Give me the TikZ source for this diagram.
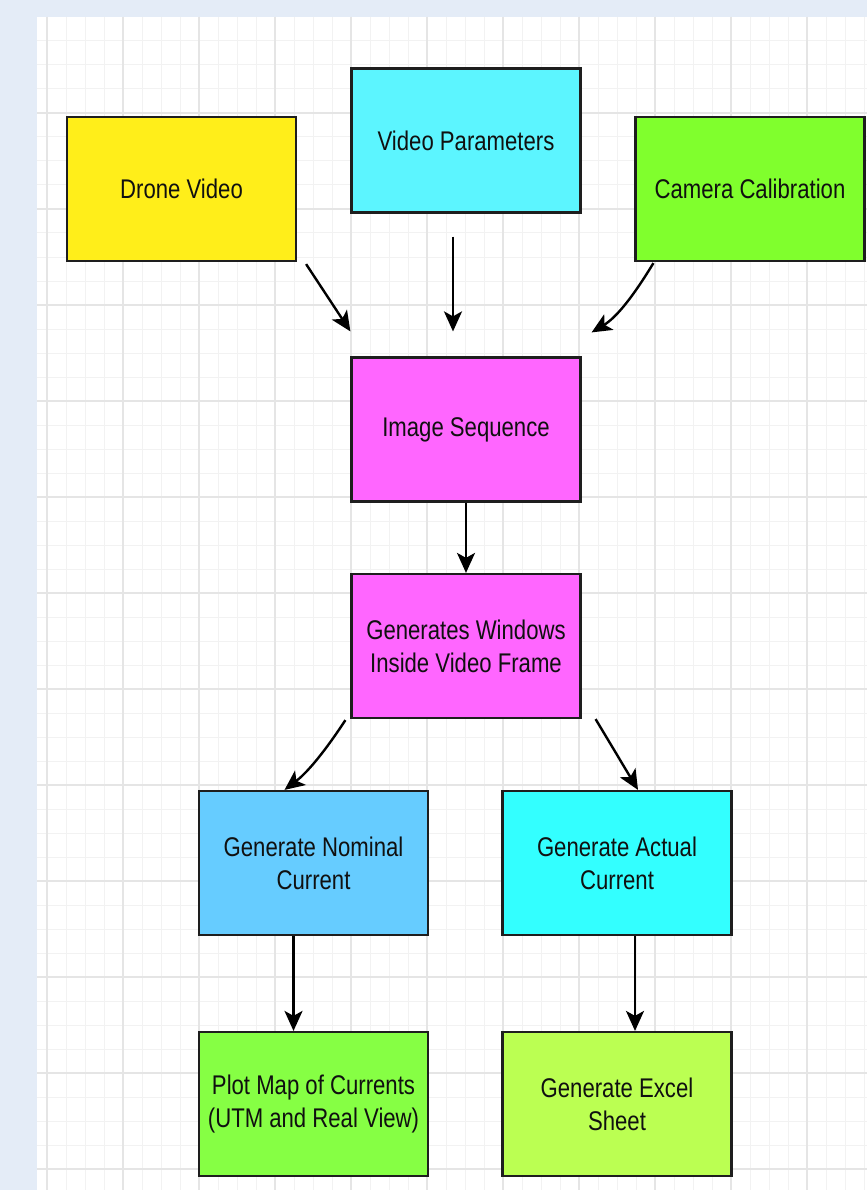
\documentclass[tikz,border=0pt]{standalone}
\usepackage{fontspec}
\setmainfont[FakeStretch=0.82]{Liberation Sans}
\usetikzlibrary{arrows.meta,calc}
\definecolor{bgblue}{HTML}{E4ECF7}
\definecolor{minorgrid}{HTML}{F2F2F2}
\definecolor{majorgrid}{HTML}{E5E5E5}
\definecolor{boxline}{HTML}{1E1E1E}
\definecolor{txt}{HTML}{101010}
\definecolor{cyellow}{HTML}{FFEE1A}
\definecolor{cvparam}{HTML}{5CF5FF}
\definecolor{ccamera}{HTML}{80FF2D}
\definecolor{cmagenta}{HTML}{FF66FF}
\definecolor{cnominal}{HTML}{66CCFF}
\definecolor{cactual}{HTML}{33FFFF}
\definecolor{cplot}{HTML}{86FF44}
\definecolor{cexcel}{HTML}{BBFF52}
\tikzset{
  flowbox/.style={draw=boxline, line width=2.2pt, minimum width=229pt, minimum height=144pt,
    inner sep=0pt, align=center, text=txt, font=\fontsize{27}{33}\selectfont},
  conn/.style={draw=black, line width=2.4pt, -{Stealth[length=20pt,width=18pt,inset=5pt]}},
  mgrid/.style={draw=minorgrid, line width=1pt},
  Mgrid/.style={draw=majorgrid, line width=1.3pt}
}
\begin{document}
\begin{tikzpicture}[x=1pt,y=-1pt]
\useasboundingbox (0,0) rectangle (867,1190);
\fill[bgblue] (0,0) rectangle (867,1190);
\fill[white] (37,17) rectangle (867,1190);
% grid
\foreach \gx in {47,66,...,866} \draw[mgrid] (\gx,17) -- (\gx,1190);
\foreach \gy in {41,65,...,1190} \draw[mgrid] (37,\gy) -- (867,\gy);
\foreach \gx in {47,123,...,866} \draw[Mgrid] (\gx,17) -- (\gx,1190);
\foreach \gy in {113,209,...,1190} \draw[Mgrid] (37,\gy) -- (867,\gy);

% nodes
\node[flowbox, fill=cyellow]  (drone)   at (181.5,189)  {Drone Video};
\node[flowbox, fill=cvparam]  (vparam)  at (466,140.5)  {Video Parameters};
\node[flowbox, fill=ccamera]  (camera)  at (750,189)    {Camera Calibration};
\node[flowbox, fill=cmagenta] (imgseq)  at (466,429.5)  {Image Sequence};
\node[flowbox, fill=cmagenta] (windows) at (466,646)    {Generates Windows\\Inside Video Frame};
\node[flowbox, fill=cnominal] (nominal) at (313.5,863)  {Generate Nominal\\Current};
\node[flowbox, fill=cactual]  (actual)  at (617,863)    {Generate Actual\\Current};
\node[flowbox, fill=cplot]    (plotmap) at (313.5,1104) {Plot Map of Currents\\(UTM and Real View)};
\node[flowbox, fill=cexcel]   (excel)   at (617,1104)   {Generate Excel\\Sheet};

% connector end points
\coordinate (dS) at ($(drone.south east)+(9,2)$);
\coordinate (dE) at ($(imgseq.north west)+(0,-25)$);
\coordinate (vS) at ($(vparam.south)+(-13,23)$);
\coordinate (vE) at ($(imgseq.north)+(-13,-25)$);
\coordinate (cS) at ($(camera.south west)+(19,1)$);
\coordinate (cE) at ($(imgseq.north east)+(10,-24)$);
\coordinate (wL) at ($(windows.south west)+(-5,1)$);
\coordinate (wR) at ($(windows.south east)+(14,0)$);
\coordinate (nT) at ($(nominal.north)+(-29,0)$);
\coordinate (aT) at ($(actual.north)+(21,0)$);
\coordinate (nB) at ($(nominal.south)+(-20,0)$);
\coordinate (aB) at ($(actual.south)+(18,0)$);

% connectors
\draw[conn] (dS) -- (dE);
\draw[conn] (vS) -- (vE);
\draw[conn] (cS) .. controls ($(cS)+(-20,33)$) and ($(cE)+(25,-15)$) .. (cE);
\draw[conn] (imgseq.south) -- (windows.north);
\draw[conn] (wL) .. controls ($(wL)+(-17,26)$) and ($(nT)+(25,-19)$) .. (nT);
\draw[conn] (wR) -- (aT);
\draw[conn] (nB) -- (nB |- plotmap.north);
\draw[conn] (aB) -- (aB |- excel.north);
\end{tikzpicture}
\end{document}
